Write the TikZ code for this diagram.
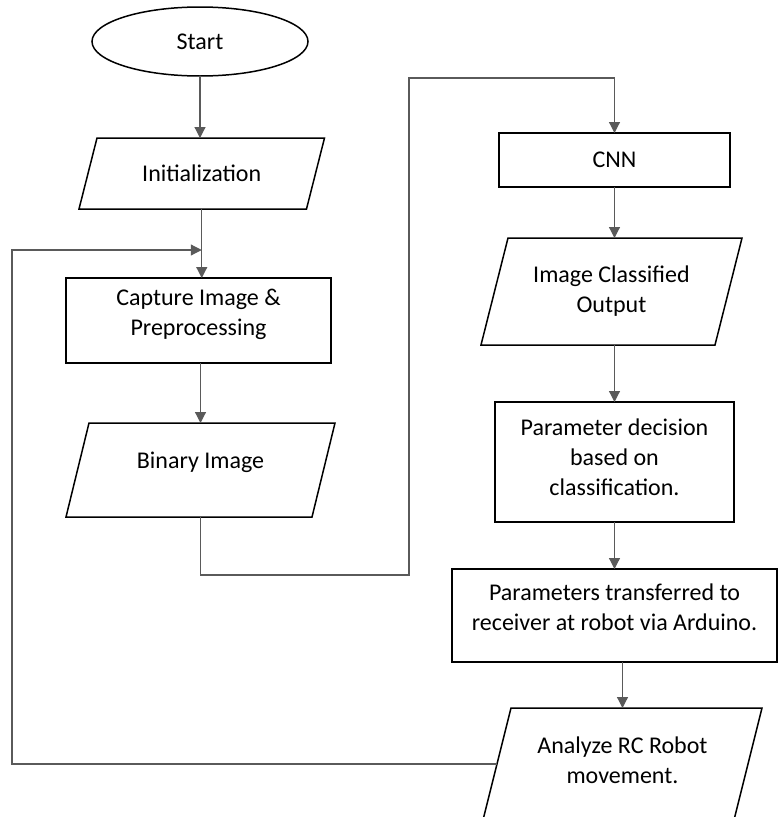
\documentclass[tikz,border=0pt]{standalone}
\usepackage{fontspec}
\setmainfont{Carlito}
\usetikzlibrary{arrows.meta,shapes.geometric,calc}

% centred text block, raised without changing its box size
\newcommand\boxtext[2]{\raisebox{#1}[\height][\depth]{\begin{tabular}{@{}c@{}}#2\end{tabular}}}
% slanted outline for an input/output node
\newcommand\iopath[2]{\draw[border] ($(#1.north west)+(#2,0)$) -- ($(#1.north east)+(#2,0)$) -- ($(#1.south east)-(#2,0)$) -- ($(#1.south west)-(#2,0)$) -- cycle;}

\definecolor{linkgray}{HTML}{5A5A5A}

\tikzset{
  border/.style={draw=black, line width=1.5pt},
  term/.style={ellipse, border, inner sep=0pt, outer sep=0pt},
  proc/.style={rectangle, border, inner sep=0pt, outer sep=0pt},
  iobody/.style={rectangle, draw=none, inner sep=0pt, outer sep=0pt},
  link/.style={draw=linkgray, line width=1.2pt},
  arr/.style={link, -{Triangle[length=11pt,width=11pt]}}
}

\begin{document}
\begin{tikzpicture}[x=1pt, y=-1pt, font=\fontsize{24}{30}\selectfont]
\useasboundingbox (0,0) rectangle (778,817);
\clip (0,0) rectangle (778,817);

% left column
\node[term, minimum width=216, minimum height=69] (start) at (200,41.5) {Start};
\node[iobody, minimum width=227.5, minimum height=71] (init) at (201.75,173.5) {Initialization};
\iopath{init}{9}
\node[proc, minimum width=265, minimum height=85] (cap) at (198.5,320.5)
  {\boxtext{6pt}{Capture Image \&\\Preprocessing}};
\node[iobody, minimum width=246, minimum height=94] (bin) at (200.5,470)
  {\boxtext{8pt}{Binary Image}};
\iopath{bin}{11.5}

% right column
\node[proc, minimum width=231, minimum height=54] (cnn) at (614.5,160) {CNN};
\node[iobody, minimum width=234, minimum height=107] (icl) at (611.5,291.5)
  {\boxtext{0pt}{Image Classified\\Output}};
\iopath{icl}{13.5}
\node[proc, minimum width=239, minimum height=120] (pdec) at (614.5,462)
  {\boxtext{3pt}{Parameter decision\\based on\\classification.}};
\node[proc, minimum width=325, minimum height=93] (ptr) at (614.5,615.5)
  {\boxtext{6pt}{Parameters transferred to\\receiver at robot via Arduino.}};
\node[iobody, minimum width=251, minimum height=112] (anl) at (622.5,764)
  {\boxtext{2pt}{Analyze RC Robot\\movement.}};
\iopath{anl}{14}

% bend points of the connectors
\coordinate (fbl) at (12,250);
\coordinate (merge) at (201.75,250);
\coordinate (lowturn) at (409,575);
\coordinate (topturn) at (409,78);

% connectors
\draw[arr] (start.south) -- (start.south |- init.north);
\draw[arr] (init.south) -- (init.south |- cap.north);
\draw[arr] (anl.west) -| (fbl) -- (merge);
\draw[arr] (bin.north |- cap.south) -- (bin.north);
\draw[arr] (bin.south) |- (lowturn) -- (topturn) -| (cnn.north);
\draw[arr] (cnn.south) -- (cnn.south |- icl.north);
\draw[arr] (pdec.north |- icl.south) -- (pdec.north);
\draw[arr] (pdec.south) -- (ptr.north);
\draw[arr] (ptr.south -| anl.north) -- (anl.north);
\end{tikzpicture}
\end{document}
